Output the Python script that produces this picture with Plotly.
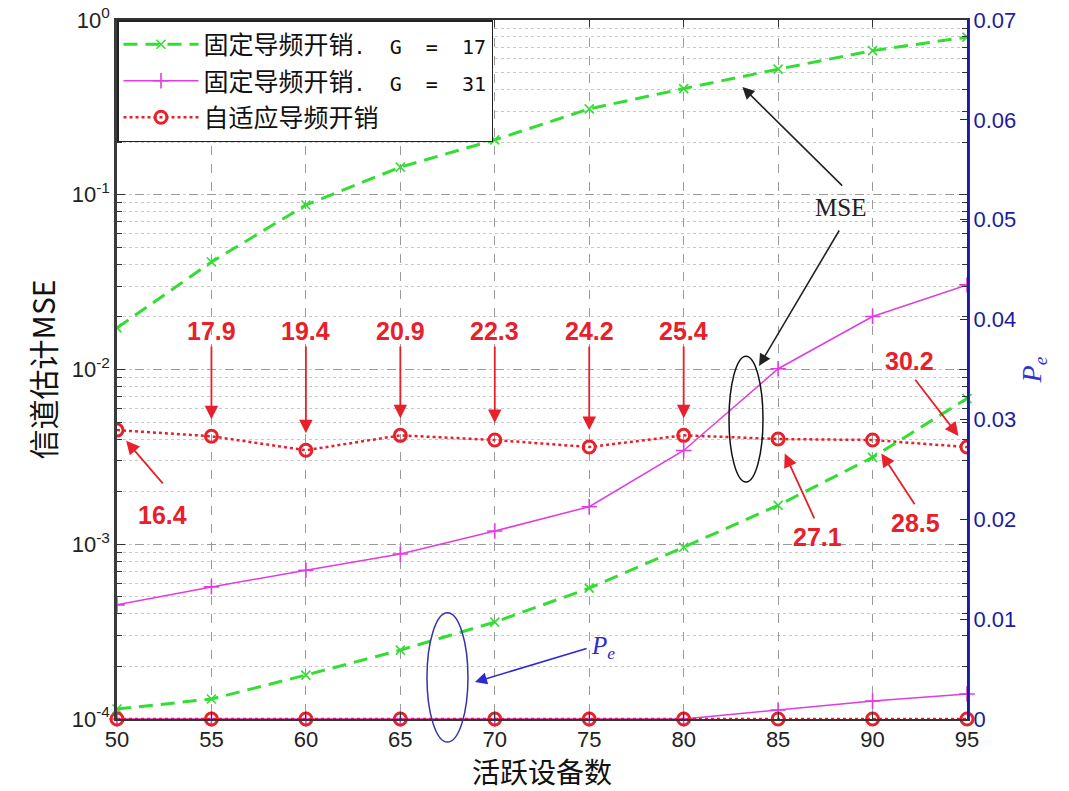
import numpy as np
import plotly.graph_objects as go

# ---------------- data ----------------
devices = [50, 55, 60, 65, 70, 75, 80, 85, 90, 95]

# channel-estimation MSE (left, log axis)
mse_g17 = [0.0173, 0.0412, 0.0874, 0.144, 0.206, 0.310, 0.405, 0.523, 0.668, 0.798]
mse_g31 = [4.5e-4, 5.7e-4, 7.1e-4, 8.8e-4, 1.19e-3, 1.64e-3, 3.44e-3, 0.0101, 0.0201, 0.0305]
mse_adaptive = [4.5e-3, 4.15e-3, 3.45e-3, 4.2e-3, 3.95e-3, 3.6e-3, 4.2e-3, 4.0e-3, 3.95e-3, 3.6e-3]

# error probability Pe (right, linear axis)
pe_g17 = [0.0010, 0.0020, 0.0044, 0.0069, 0.0097, 0.0131, 0.0172, 0.0214, 0.0262, 0.0321]
pe_g31 = [0, 0, 0, 0, 0, 0, 0, 0.0009, 0.0018, 0.0025]
pe_adaptive = [0, 0, 0, 0, 0, 0, 0, 0, 0, 0]

# pilot overhead chosen by the adaptive scheme
pilot_overhead = [16.4, 17.9, 19.4, 20.9, 22.3, 24.2, 25.4, 27.1, 28.5, 30.2]

MONO = "<span style='font-family:DejaVu Sans Mono;font-size:20px'>{}</span>"
names = ["固定导频开销" + MONO.format(".  G  =  17"),
         "固定导频开销" + MONO.format(".  G  =  31"),
         "自适应导频开销"]
mse_ticks = [1e-4, 1e-3, 1e-2, 1e-1, 1e0]
mse_ticktext = ["10<sup>-4</sup>", "10<sup>-3</sup>", "10<sup>-2</sup>", "10<sup>-1</sup>", "10<sup>0</sup>"]
pe_ticks = [0, 0.01, 0.02, 0.03, 0.04, 0.05, 0.06, 0.07]
pe_ticktext = ["0", "0.01", "0.02", "0.03", "0.04", "0.05", "0.06", "0.07"]

# ---------------- style ----------------
GREEN = "#33dd33"
MAGENTA = "#e03ce0"
RED = "#e8202a"
NAVY = "#1c1ca0"
BLUE = "#2a2ad0"
CJK = "Noto Sans CJK SC"
SANS = "Liberation Sans, Arial, sans-serif"
SERIF = "Liberation Serif, Times New Roman, serif"

fig = go.Figure()

styles = [
    dict(color=GREEN, width=3, dash="14px,8px", symbol="x-thin", size=9, mlw=1.6, group="g17"),
    dict(color=MAGENTA, width=1.5, dash="solid", symbol="cross-thin", size=11, mlw=1.6, group="g31"),
    dict(color=RED, width=2.5, dash="3px,3px", symbol="circle-open", size=12, mlw=3, group="ad"),
]
mse_series = [mse_g17, mse_g31, mse_adaptive]
pe_series = [pe_g17, pe_g31, pe_adaptive]

for name, st, mse, pe in zip(names, styles, mse_series, pe_series):
    marker = dict(symbol=st["symbol"], size=st["size"], color=st["color"],
                  line=dict(color=st["color"], width=st["mlw"]))
    line = dict(color=st["color"], width=st["width"], dash=st["dash"])
    fig.add_trace(go.Scatter(x=devices, y=mse, name=name, mode="lines+markers",
                             line=line, marker=marker, legendgroup=st["group"],
                             yaxis="y"))
    fig.add_trace(go.Scatter(x=devices, y=pe, name=name, mode="lines+markers",
                             line=line, marker=marker, legendgroup=st["group"],
                             showlegend=False, yaxis="y2", cliponaxis=False))

# ---------------- pilot-overhead callouts ----------------
# (tail x, tail log10 y, text x, text log10 y, standoff) for each adaptive point
callouts = [
    (52.49, -2.66, 52.40, -2.833, 14),
    (55, -1.86, 55, -1.78, 17),
    (60, -1.86, 60, -1.78, 17),
    (65, -1.86, 65, -1.78, 17),
    (70, -1.86, 70, -1.78, 17),
    (75, -1.86, 75, -1.78, 17),
    (80, -1.86, 80, -1.78, 17),
    (86.95, -2.86, 87.09, -2.958, 16),
    (92.28, -2.78, 92.28, -2.878, 16),
    (92.2, -2.05, 91.93, -1.95, 14),
]
for x, v, g, (tx, ty, lx, ly, so) in zip(devices, mse_adaptive, pilot_overhead, callouts):
    fig.add_annotation(x=x, y=np.log10(v), xref="x", yref="y",
                       ax=tx, ay=ty, axref="x", ayref="y", text="",
                       showarrow=True, arrowhead=2, arrowsize=1.5, arrowwidth=1.8,
                       arrowcolor=RED, standoff=so)
    fig.add_annotation(x=lx, y=ly, xref="x", yref="y", text=f"<b>{g}</b>",
                       showarrow=False, font=dict(family=SANS, size=25, color=RED))

# MSE label with two pointers
fig.add_annotation(x=88.28, y=-1.073, xref="x", yref="y", text="MSE", showarrow=False,
                   font=dict(family=SERIF, size=25, color="#222222"))
fig.add_annotation(x=83.11, y=-0.383, xref="x", yref="y", ax=88.47, ay=-0.956,
                   axref="x", ayref="y", text="", showarrow=True, arrowhead=2,
                   arrowsize=1.5, arrowwidth=1.6, arrowcolor="#222222")
fig.add_annotation(x=83.99, y=-1.98, xref="x", yref="y", ax=88.28, ay=-1.196,
                   axref="x", ayref="y", text="", showarrow=True, arrowhead=2,
                   arrowsize=1.5, arrowwidth=1.6, arrowcolor="#222222")
fig.add_shape(type="circle", xref="x", yref="paper", x0=82.40, x1=84.20, y0=0.339, y1=0.519,
              line=dict(color="#111111", width=1.5), layer="above")

# Pe label with pointer
fig.add_annotation(x=75.0, y=0.0072, xref="x", yref="y2", xanchor="left",
                   text="<i>P<sub>e</sub></i>", showarrow=False,
                   font=dict(family=SERIF, size=25, color=BLUE))
fig.add_annotation(x=68.95, y=0.0037, xref="x", yref="y2", ax=74.94, ay=0.0071,
                   axref="x", ayref="y2", text="", showarrow=True, arrowhead=2,
                   arrowsize=1.5, arrowwidth=1.6, arrowcolor=BLUE)
fig.add_shape(type="circle", xref="x", yref="paper", x0=66.41, x1=68.58, y0=-0.033, y1=0.152,
              line=dict(color="#3434a8", width=1.5), layer="above")

# ---------------- axes ----------------
fig.update_layout(
    width=1069, height=791,
    margin=dict(l=117, r=102, t=20, b=72, autoexpand=False),
    paper_bgcolor="white", plot_bgcolor="white",
    showlegend=True,
    legend=dict(x=0, y=1.0, xanchor="left", yanchor="top",
                bgcolor="white", bordercolor="#222222", borderwidth=1.5,
                font=dict(family=CJK, size=25, color="#111111"),
                tracegroupgap=1, itemwidth=75),
    xaxis=dict(range=[50, 95], tickvals=devices, ticks="inside", ticklen=7,
               tickcolor="#333333", showline=True, linecolor="#333333", linewidth=1.5,
               mirror="ticks", showgrid=True, gridcolor="#9a9a9a", griddash="dash",
               gridwidth=1, zeroline=False,
               tickfont=dict(family=SANS, size=22, color="#222222"),
               title=dict(text="活跃设备数", font=dict(family=CJK, size=28, color="#111111"),
                          standoff=2)),
    yaxis=dict(type="log", range=[-4, 0], tickvals=mse_ticks, ticktext=mse_ticktext,
               ticks="inside", ticklen=8, tickcolor="#333333",
               showline=True, linecolor="#3a3a3a", linewidth=2.5, mirror="ticks",
               showgrid=True, gridcolor="#9a9a9a", griddash="dash", gridwidth=1,
               zeroline=False,
               minor=dict(ticks="inside", ticklen=5, tickcolor="#333333", showgrid=True,
                          gridcolor="#c8c8c8", griddash="dot", dtick="D1"),
               tickfont=dict(family=SANS, size=22, color="#222222"),
               title=dict(text="信道估计MSE", font=dict(family=CJK, size=30, color="#111111"),
                          standoff=8)),
    yaxis2=dict(overlaying="y", side="right", range=[0, 0.07],
                tickvals=pe_ticks, ticktext=pe_ticktext,
                ticks="inside", ticklen=7, tickcolor=NAVY,
                showline=True, linecolor=NAVY, linewidth=2, showgrid=False,
                zeroline=False,
                tickfont=dict(family=SANS, size=22, color=NAVY),
                title=dict(text="<i>P<sub>e</sub></i>",
                           font=dict(family=SERIF, size=28, color="#3333cc"),
                           standoff=6)),
)

fig.write_html("out.html")
